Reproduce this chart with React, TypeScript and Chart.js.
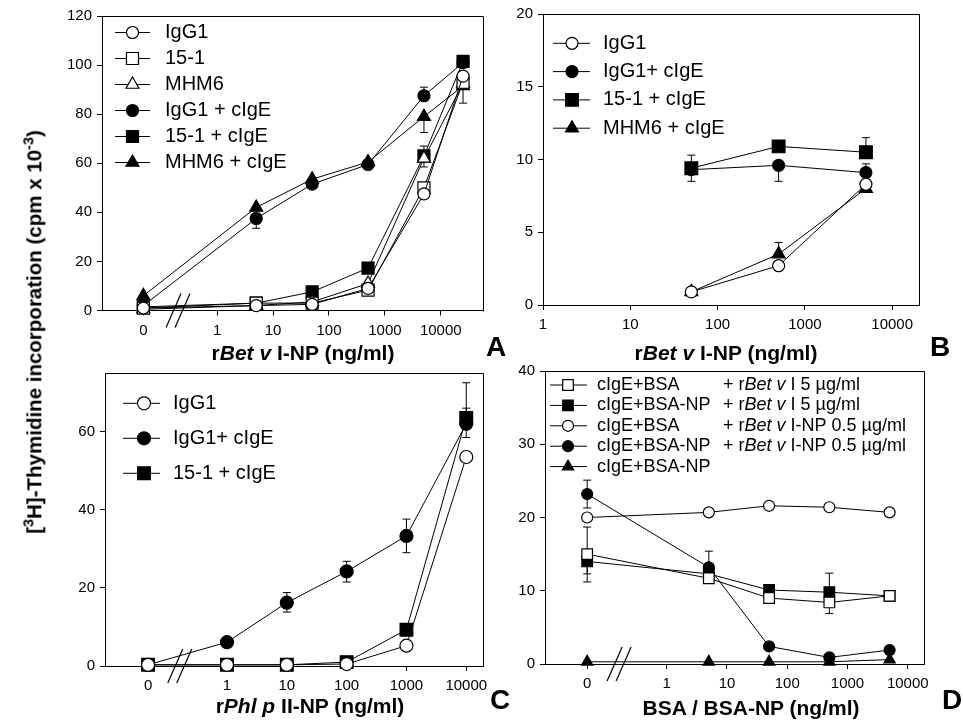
import React, { useEffect, useRef } from "react";
import { Chart, registerables } from "chart.js";
Chart.register(...registerables);

const FONT = "'Liberation Sans', Arial, Helvetica, sans-serif";
const ZERO_POS = -1.32;
const toPos = (c: number) => (c === 0 ? ZERO_POS : Math.log10(c));

// ---------- Panel A ----------
const aConc = [0, 5, 50, 500, 5000, 25000];
const aTickConc = [0, 1, 10, 100, 1000, 10000];
const aTickLabels = ["0", "1", "10", "100", "1000", "10000"];
const aYTicks = [0, 20, 40, 60, 80, 100, 120];
const aIgG1 = [1, 2, 2.5, 9, 47.5, 95.5];
const a151 = [1, 3, 3, 8.3, 50, 93];
const aMHM6 = [0.5, 2, 3.5, 11, 62, 92.5];
const aIgG1cIgE = [2, 37.5, 51.5, 59.5, 87.5, 101];
const a151cIgE = [1.5, 3, 7.6, 17.3, 63, 101.5];
const aMHM6cIgE = [6, 42, 53.5, 60.5, 79, 91.5];
const aIgG1Err = [null, null, null, null, null, [84.5, null]];
const aIgG1cIgEErr = [null, [33.5, null], null, null, [null, 91], null];
const a151cIgEErr = [null, null, null, null, [58.5, 67], null];
const aMHM6cIgEErr = [null, null, null, null, [72.5, null], null];

// ---------- Panel B ----------
const bConc = [50, 500, 5000];
const bTickConc = [1, 10, 100, 1000, 10000];
const bTickLabels = ["1", "10", "100", "1000", "10000"];
const bYTicks = [0, 5, 10, 15, 20];
const bIgG1 = [0.9, 2.7, 8.3];
const bIgG1cIgE = [9.3, 9.6, 9.1];
const b151cIgE = [9.4, 10.9, 10.5];
const bMHM6cIgE = [0.9, 3.5, 8.0];
const bIgG1cIgEErr = [null, [8.5, null], [null, 9.7]];
const b151cIgEErr = [[8.5, 10.3], null, [null, 11.5]];
const bMHM6cIgEErr = [null, [null, 4.3], null];

// ---------- Panel C ----------
const cConc = [0, 1, 10, 100, 1000, 10000];
const cTickConc = [0, 1, 10, 100, 1000, 10000];
const cTickLabels = ["0", "1", "10", "100", "1000", "10000"];
const cYTicks = [0, 20, 40, 60];
const cIgG1 = [0.3, 0.3, 0.3, 0.5, 5.2, 53.5];
const cIgG1cIgE = [0.3, 6.1, 16.2, 24.2, 33.3, 62];
const c151cIgE = [0.3, 0.3, 0.3, 1.0, 9.3, 63.5];
const cIgG1cIgEErr = [null, null, [13.8, 18.8], [21.5, 26.8], [29, 37.6], [58.5, 66]];
const c151cIgEErr = [null, null, null, null, null, [null, 72.5]];

// ---------- Panel D ----------
const dConc = [0, 5, 50, 500, 5000];
const dTickConc = [0, 1, 10, 100, 1000, 10000];
const dTickLabels = ["0", "1", "10", "100", "1000", "10000"];
const dYTicks = [0, 10, 20, 30, 40];
const dBSA5 = [15, 11.7, 9.0, 8.4, 9.3];
const dBSANP5 = [14, 12.3, 10.1, 9.8, 9.3];
const dBSA05 = [20, 20.7, 21.6, 21.4, 20.7];
const dBSANP05 = [23.2, 13.2, 2.4, 0.9, 1.9];
const dBSANP = [0.3, 0.3, 0.3, 0.3, 0.6];
const dBSA5Err = [[12.3, 18.7], null, null, [6.9, null], null];
const dBSANP5Err = [[11.2, null], null, null, [null, 12.4], null];
const dBSANP05Err = [[21.3, 25.1], [null, 15.4], null, null, null];

type Style = "circle" | "rect" | "triangle";
type Series = { label: string; data: number[]; style: Style; filled: boolean; err?: any[] };
type PanelCfg = {
  conc: number[];
  series: Series[];
  plot: { left: number; top: number; right: number; bottom: number };
  xMin: number; xMax: number; yMax: number;
  xTickConc: number[]; xTickLabels: string[]; yTicks: number[];
  breakPos: number | null;
  radius: { circle: number; rect: number; triangle: number };
  legend: { x0: number; x1: number; xm: number; tx: number; col2?: number; y0: number; dy: number; size: number };
};

const panels: PanelCfg[] = [
  {
    conc: aConc,
    series: [
      { label: "IgG1", data: aIgG1, style: "circle", filled: false, err: aIgG1Err },
      { label: "15-1", data: a151, style: "rect", filled: false },
      { label: "MHM6", data: aMHM6, style: "triangle", filled: false },
      { label: "IgG1 + cIgE", data: aIgG1cIgE, style: "circle", filled: true, err: aIgG1cIgEErr },
      { label: "15-1 + cIgE", data: a151cIgE, style: "rect", filled: true, err: a151cIgEErr },
      { label: "MHM6 + cIgE", data: aMHM6cIgE, style: "triangle", filled: true, err: aMHM6cIgEErr },
    ],
    plot: { left: 102, top: 16, right: 483, bottom: 310.5 },
    xMin: -2.06, xMax: 4.755, yMax: 120,
    xTickConc: aTickConc, xTickLabels: aTickLabels, yTicks: aYTicks,
    breakPos: -0.7,
    radius: { circle: 6, rect: 8.5, triangle: 7.5 },
    legend: { x0: 115, x1: 150, xm: 132.5, tx: 165, y0: 32.5, dy: 26, size: 20 },
  },
  {
    conc: bConc,
    series: [
      { label: "IgG1", data: bIgG1, style: "circle", filled: false },
      { label: "IgG1+ cIgE", data: bIgG1cIgE, style: "circle", filled: true, err: bIgG1cIgEErr },
      { label: "15-1 + cIgE", data: b151cIgE, style: "rect", filled: true, err: b151cIgEErr },
      { label: "MHM6 + cIgE", data: bMHM6cIgE, style: "triangle", filled: true, err: bMHM6cIgEErr },
    ],
    plot: { left: 543, top: 12, right: 919, bottom: 305 },
    xMin: 0, xMax: 4.307, yMax: 20,
    xTickConc: bTickConc, xTickLabels: bTickLabels, yTicks: bYTicks,
    breakPos: null,
    radius: { circle: 6, rect: 9, triangle: 7.5 },
    legend: { x0: 553, x1: 590, xm: 572, tx: 603, y0: 43.3, dy: 28.3, size: 20 },
  },
  {
    conc: cConc,
    series: [
      { label: "IgG1", data: cIgG1, style: "circle", filled: false },
      { label: "IgG1+ cIgE", data: cIgG1cIgE, style: "circle", filled: true, err: cIgG1cIgEErr },
      { label: "15-1 + cIgE", data: c151cIgE, style: "rect", filled: true, err: c151cIgEErr },
    ],
    plot: { left: 105, top: 373, right: 483, bottom: 666 },
    xMin: -2.04, xMax: 4.28, yMax: 75,
    xTickConc: cTickConc, xTickLabels: cTickLabels, yTicks: cYTicks,
    breakPos: -0.79,
    radius: { circle: 6.5, rect: 9, triangle: 7.5 },
    legend: { x0: 123, x1: 160, xm: 144, tx: 173, y0: 403.3, dy: 35, size: 20 },
  },
  {
    conc: dConc,
    series: [
      { label: "cIgE+BSA|+ r*Bet v* I 5 µg/ml", data: dBSA5, style: "rect", filled: false, err: dBSA5Err },
      { label: "cIgE+BSA-NP|+ r*Bet v* I 5 µg/ml", data: dBSANP5, style: "rect", filled: true, err: dBSANP5Err },
      { label: "cIgE+BSA|+ r*Bet v* I-NP 0.5 µg/ml", data: dBSA05, style: "circle", filled: false },
      { label: "cIgE+BSA-NP|+ r*Bet v* I-NP 0.5 µg/ml", data: dBSANP05, style: "circle", filled: true, err: dBSANP05Err },
      { label: "cIgE+BSA-NP", data: dBSANP, style: "triangle", filled: true },
    ],
    plot: { left: 545, top: 371, right: 924, bottom: 664 },
    xMin: -2.02, xMax: 4.27, yMax: 40,
    xTickConc: dTickConc, xTickLabels: dTickLabels, yTicks: dYTicks,
    breakPos: -0.79,
    radius: { circle: 5.5, rect: 7.5, triangle: 6.5 },
    legend: { x0: 550, x1: 587, xm: 568, tx: 597, col2: 723, y0: 385, dy: 20.4, size: 18 },
  },
];

const W = 963;
const H = 720;
const Y_AXIS_W = 40;
const X_AXIS_H = 30;

function drawMarker(ctx: CanvasRenderingContext2D, style: Style, x: number, y: number, r: number, filled: boolean) {
  ctx.beginPath();
  if (style === "circle") {
    ctx.arc(x, y, r, 0, Math.PI * 2);
  } else if (style === "rect") {
    const s = Math.SQRT1_2 * r;
    ctx.rect(x - s, y - s, 2 * s, 2 * s);
  } else {
    let rad = 0;
    ctx.moveTo(x + Math.sin(rad) * r, y - Math.cos(rad) * r);
    rad += (2 * Math.PI) / 3;
    ctx.lineTo(x + Math.sin(rad) * r, y - Math.cos(rad) * r);
    rad += (2 * Math.PI) / 3;
    ctx.lineTo(x + Math.sin(rad) * r, y - Math.cos(rad) * r);
    ctx.closePath();
  }
  ctx.fillStyle = filled ? "#000" : "#fff";
  ctx.fill();
  ctx.lineWidth = 1.2;
  ctx.strokeStyle = "#000";
  ctx.stroke();
}

function drawRich(ctx: CanvasRenderingContext2D, text: string, x: number, y: number, size: number) {
  const parts = text.split("*");
  let cx = x;
  parts.forEach((p, i) => {
    ctx.font = `${i % 2 ? "italic " : ""}${size}px ${FONT}`;
    ctx.fillText(p, cx, y);
    cx += ctx.measureText(p).width;
  });
}

function buildConfig(cfg: PanelCfg): any {
  const tickPos = cfg.xTickConc.map(toPos);
  const framePlugin = {
    id: "frame",
    beforeDatasetsDraw(chart: any) {
      const { left, top, right, bottom } = chart.chartArea;
      const ctx = chart.ctx;
      ctx.save();
      ctx.strokeStyle = "#000";
      ctx.lineWidth = 1;
      ctx.beginPath();
      ctx.moveTo(Math.round(left) + 0.5, Math.round(top) + 0.5);
      ctx.lineTo(Math.round(right) + 0.5, Math.round(top) + 0.5);
      ctx.lineTo(Math.round(right) + 0.5, Math.round(bottom) + 0.5);
      ctx.stroke();
      // error bars
      const xs = chart.scales.x;
      const ys = chart.scales.y;
      cfg.series.forEach((s) => {
        if (!s.err) return;
        s.err.forEach((e: any, i: number) => {
          if (!e) return;
          const px = xs.getPixelForValue(toPos(cfg.conc[i]));
          const py = ys.getPixelForValue(s.data[i]);
          e.forEach((end: number | null) => {
            if (end === null) return;
            const ey = ys.getPixelForValue(end);
            ctx.beginPath();
            ctx.moveTo(px, py);
            ctx.lineTo(px, ey);
            ctx.moveTo(px - 4, ey);
            ctx.lineTo(px + 4, ey);
            ctx.stroke();
          });
        });
      });
      ctx.restore();
    },
    afterDraw(chart: any) {
      const ctx = chart.ctx;
      ctx.save();
      // axis break
      if (cfg.breakPos !== null) {
        const cx = chart.scales.x.getPixelForValue(cfg.breakPos);
        const yb = chart.chartArea.bottom;
        ctx.strokeStyle = "#000";
        ctx.lineWidth = 1.2;
        for (let k = 0; k < 2; k++) {
          const xb = cx - 12 + k * 9;
          ctx.beginPath();
          ctx.moveTo(xb, yb + 17);
          ctx.lineTo(xb + 15, yb - 17);
          ctx.stroke();
        }
      }
      // legend
      const L = cfg.legend;
      cfg.series.forEach((s, i) => {
        const y = L.y0 + i * L.dy;
        ctx.strokeStyle = "#000";
        ctx.lineWidth = 1;
        ctx.beginPath();
        ctx.moveTo(L.x0, y);
        ctx.lineTo(L.x1, y);
        ctx.stroke();
        drawMarker(ctx, s.style, L.xm, y, cfg.radius[s.style], s.filled);
        ctx.fillStyle = "#000";
        ctx.textBaseline = "middle";
        ctx.textAlign = "left";
        const [c1, c2] = s.label.split("|");
        drawRich(ctx, c1, L.tx, y, L.size);
        if (c2 && L.col2) drawRich(ctx, c2, L.col2, y, L.size);
      });
      ctx.restore();
    },
  };

  const axisCommon = {
    grid: { display: true, drawOnChartArea: false, drawTicks: true, tickLength: 5, color: "#000", lineWidth: 1 },
    border: { display: true, color: "#000", width: 1 },
  };

  return {
    type: "line",
    data: {
      datasets: cfg.series.map((s) => ({
        label: s.label.replace(/\|/g, " ").replace(/\*/g, ""),
        data: cfg.conc.map((c, i) => ({ x: toPos(c), y: s.data[i] })),
        borderColor: "#000",
        borderWidth: 1,
        backgroundColor: s.filled ? "#000" : "#fff",
        pointStyle: s.style,
        pointRadius: cfg.radius[s.style],
        pointBorderWidth: 1.2,
        pointBorderColor: "#000",
        pointBackgroundColor: s.filled ? "#000" : "#fff",
        tension: 0,
        fill: false,
        clip: false,
      })),
    },
    options: {
      animation: false,
      responsive: false,
      maintainAspectRatio: false,
      devicePixelRatio: 1,
      events: [],
      layout: {
        padding: {
          left: cfg.plot.left - Y_AXIS_W,
          top: cfg.plot.top,
          right: W - cfg.plot.right,
          bottom: H - cfg.plot.bottom - X_AXIS_H,
        },
      },
      plugins: { legend: { display: false }, tooltip: { enabled: false }, title: { display: false } },
      scales: {
        x: {
          type: "linear",
          min: cfg.xMin,
          max: cfg.xMax,
          afterFit: (s: any) => { s.height = X_AXIS_H; },
          afterBuildTicks: (s: any) => { s.ticks = tickPos.map((v) => ({ value: v })); },
          ticks: {
            autoSkip: false, maxRotation: 0, minRotation: 0, padding: 6, color: "#000",
            font: { family: FONT, size: 15 },
            callback: (_v: any, i: number) => cfg.xTickLabels[i],
          },
          ...axisCommon,
        },
        y: {
          type: "linear",
          min: 0,
          max: cfg.yMax,
          afterFit: (s: any) => { s.width = Y_AXIS_W; },
          afterBuildTicks: (s: any) => { s.ticks = cfg.yTicks.map((v) => ({ value: v })); },
          ticks: {
            autoSkip: false, padding: 5, color: "#000",
            font: { family: FONT, size: 15 },
            callback: (v: any) => String(v),
          },
          ...axisCommon,
        },
      },
    },
    plugins: [framePlugin],
  };
}

function Panel({ cfg }: { cfg: PanelCfg }) {
  const ref = useRef<HTMLCanvasElement>(null);
  useEffect(() => {
    const chart = new Chart(ref.current as HTMLCanvasElement, buildConfig(cfg));
    return () => chart.destroy();
  }, [cfg]);
  return (
    <canvas
      ref={ref}
      width={W}
      height={H}
      style={{ position: "absolute", left: 0, top: 0, width: W, height: H }}
    />
  );
}

const titleStyle: React.CSSProperties = {
  position: "absolute",
  transform: "translate(-50%, -50%)",
  whiteSpace: "nowrap",
  fontFamily: FONT,
  fontWeight: "bold",
  fontSize: 21,
  color: "#000",
  lineHeight: 1,
};

const letterStyle: React.CSSProperties = { ...titleStyle, fontSize: 28 };

export default function App() {
  return (
    <div style={{ position: "absolute", left: 0, top: 0, width: W, height: H, background: "#fff", overflow: "hidden" }}>
      {panels.map((p, i) => (
        <Panel key={i} cfg={p} />
      ))}
      <div style={{ ...titleStyle, left: 33, top: 332, fontSize: 20.5, transform: "translate(-50%, -50%) rotate(-90deg)" }}>
        [<sup style={{ fontSize: "0.7em" }}>3</sup>H]-Thymidine incorporation (cpm x 10<sup style={{ fontSize: "0.7em" }}>-3</sup>)
      </div>
      <div style={{ ...titleStyle, left: 303, top: 352 }}>r<i>Bet v</i> I-NP (ng/ml)</div>
      <div style={{ ...titleStyle, left: 726, top: 352 }}>r<i>Bet v</i> I-NP (ng/ml)</div>
      <div style={{ ...titleStyle, left: 310, top: 705 }}>r<i>Phl p</i> II-NP (ng/ml)</div>
      <div style={{ ...titleStyle, left: 751, top: 707 }}>BSA / BSA-NP (ng/ml)</div>
      <div style={{ ...letterStyle, left: 496, top: 347 }}>A</div>
      <div style={{ ...letterStyle, left: 940, top: 347 }}>B</div>
      <div style={{ ...letterStyle, left: 500, top: 700 }}>C</div>
      <div style={{ ...letterStyle, left: 952, top: 700 }}>D</div>
    </div>
  );
}
